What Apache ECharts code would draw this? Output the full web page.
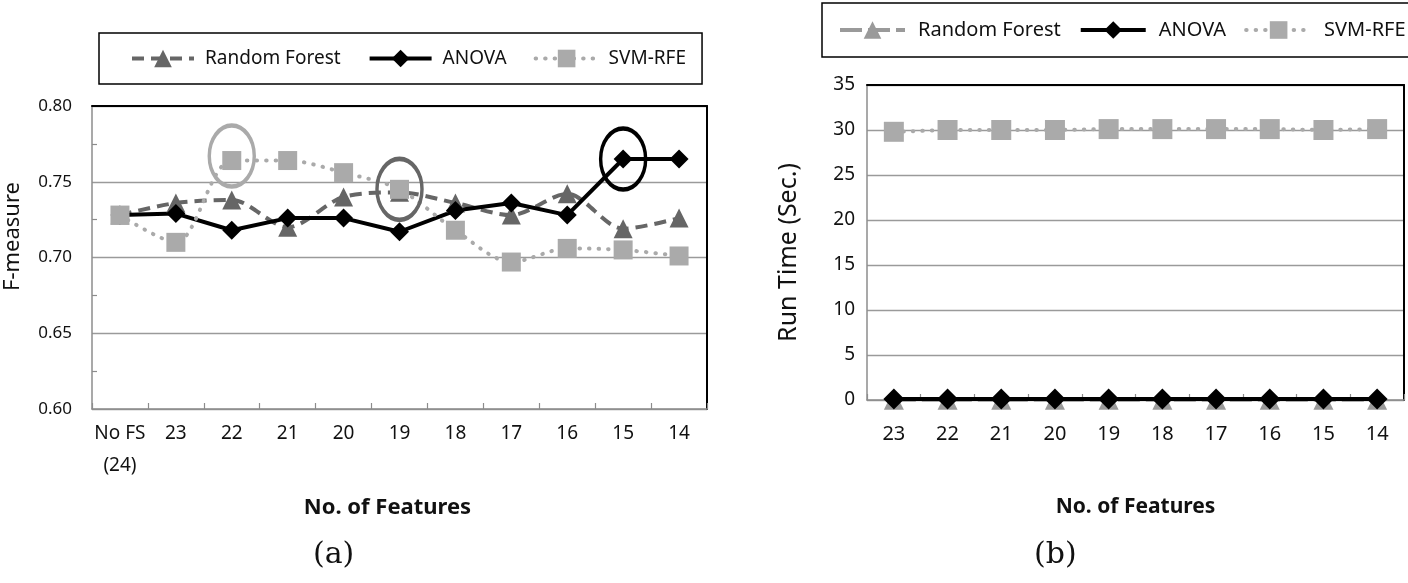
<!DOCTYPE html>
<html>
<head>
<meta charset="utf-8">
<script src="https://cdn.jsdelivr.net/npm/echarts@6/dist/echarts.min.js"></script>
<style>
html,body{margin:0;padding:0;background:#fff;}
#c{width:1408px;height:583px;}
</style>
</head>
<body>
<div id="c"></div>
<script>
// ---- data (a): F-measure ----
const categoriesA = ['No FS\n\n(24)', '23', '22', '21', '20', '19', '18', '17', '16', '15', '14'];
const rfA    = [0.728, 0.736, 0.738, 0.720, 0.740, 0.743, 0.736, 0.728, 0.742, 0.719, 0.726];
const anovaA = [0.728, 0.729, 0.718, 0.726, 0.726, 0.717, 0.731, 0.736, 0.728, 0.765, 0.765];
const svmA   = [0.728, 0.710, 0.764, 0.764, 0.756, 0.745, 0.718, 0.697, 0.706, 0.705, 0.701];
const yTicksA = [0.60, 0.65, 0.70, 0.75, 0.80];
// highlighted points (ellipses)
const markSvmA   = ['22', 0.767];
const markRfA    = ['19', 0.745];
const markAnovaA = ['15', 0.765];

// ---- data (b): run time ----
const categoriesB = ['23', '22', '21', '20', '19', '18', '17', '16', '15', '14'];
const rfB    = [0.02, 0.02, 0.02, 0.02, 0.02, 0.02, 0.02, 0.02, 0.02, 0.02];
const anovaB = [0.1, 0.1, 0.1, 0.1, 0.1, 0.1, 0.1, 0.1, 0.1, 0.1];
const svmB   = [29.8, 30.0, 30.0, 30.0, 30.1, 30.1, 30.1, 30.1, 30.0, 30.1];
const yTicksB = [0, 5, 10, 15, 20, 25, 30, 35];

const seriesNames = ['Random Forest', 'ANOVA', 'SVM-RFE'];

const FONT = 'Noto Sans';
const TXT = '#111';
const AXIS_GRAY = '#8c8c8c';
const GRID_GRAY = '#9a9a9a';
const ellipse = 'path://M0,50A50,50,0,1,1,100,50A50,50,0,1,1,0,50Z';

function mark(coord, color) {
  return {
    symbol: ellipse,
    symbolSize: [45, 61],
    silent: true,
    itemStyle: { color: 'rgba(0,0,0,0)', borderColor: color, borderWidth: 4 },
    label: { show: false },
    data: [{ coord: coord }]
  };
}

const chart = echarts.init(document.getElementById('c'));
chart.setOption({
  animation: false,
  backgroundColor: '#fff',
  textStyle: { fontFamily: FONT },
  title: [
    { text: '(a)', left: 313, top: 540, padding: 0,
      textStyle: { fontFamily: 'DejaVu Serif', fontSize: 30, fontWeight: 'normal', color: TXT } },
    { text: '(b)', left: 1034, top: 540, padding: 0,
      textStyle: { fontFamily: 'DejaVu Serif', fontSize: 30, fontWeight: 'normal', color: TXT } }
  ],
  legend: [
    {
      left: 99, top: 33, width: 660,
      orient: 'horizontal',
      itemWidth: 62, itemHeight: 22, itemGap: 27,
      padding: [16, 16, 16, 31],
      borderColor: '#000', borderWidth: 1.5,
      lineStyle: { width: 4 },
      textStyle: { fontFamily: FONT, fontSize: 19, color: TXT, padding: [0, 0, 0, 6] },
      data: seriesNames
    },
    {
      left: 822, top: 3, width: 620,
      orient: 'horizontal',
      itemWidth: 65, itemHeight: 22, itemGap: 18,
      padding: [17, 10, 17, 16],
      borderColor: '#000', borderWidth: 1.5,
      lineStyle: { width: 4 },
      textStyle: { fontFamily: FONT, fontSize: 20, color: TXT, padding: [0, 0, 0, 8] },
      data: [
        { name: 'Random Forest', itemStyle: { color: '#9a9a9a' }, lineStyle: { color: '#9a9a9a', type: [22, 6], width: 4 } },
        { name: 'ANOVA' },
        { name: 'SVM-RFE' }
      ]
    }
  ],
  grid: [
    { left: 92, top: 106, width: 615, height: 303 },
    { left: 867, top: 85, width: 537, height: 315 }
  ],
  xAxis: [
    {
      gridIndex: 0, type: 'category', data: categoriesA, boundaryGap: true,
      axisLine: { onZero: false, lineStyle: { color: AXIS_GRAY, width: 1.5 } },
      axisTick: { show: true, inside: true, length: 6, lineStyle: { color: AXIS_GRAY, width: 1.2 } },
      axisLabel: { fontSize: 19, color: TXT, margin: 17, lineHeight: 16, interval: 0, fontFamily: FONT },
      name: 'No. of Features', nameLocation: 'middle', nameGap: 88,
      nameTextStyle: { fontSize: 22, fontWeight: 'bold', color: TXT, fontFamily: FONT, padding: [0, 24, 0, 0] }
    },
    {
      gridIndex: 0, type: 'category', data: categoriesA, position: 'top',
      axisLine: { onZero: false, lineStyle: { color: '#000', width: 2 } },
      axisTick: { show: false }, axisLabel: { show: false }, splitLine: { show: false }
    },
    {
      gridIndex: 1, type: 'category', data: categoriesB, boundaryGap: true,
      axisLine: { onZero: false, lineStyle: { color: AXIS_GRAY, width: 1.5 } },
      axisTick: { show: true, inside: true, length: 6, lineStyle: { color: AXIS_GRAY, width: 1.2 } },
      axisLabel: { fontSize: 20, color: TXT, margin: 24, interval: 0, fontFamily: FONT },
      name: 'No. of Features', nameLocation: 'middle', nameGap: 97,
      nameTextStyle: { fontSize: 21, fontWeight: 'bold', color: TXT, fontFamily: FONT }
    },
    {
      gridIndex: 1, type: 'category', data: categoriesB, position: 'top',
      axisLine: { onZero: false, lineStyle: { color: '#000', width: 2 } },
      axisTick: { show: false }, axisLabel: { show: false }, splitLine: { show: false }
    }
  ],
  yAxis: [
    {
      gridIndex: 0, type: 'value',
      min: yTicksA[0], max: yTicksA[yTicksA.length - 1], interval: 0.05,
      axisLine: { show: true, onZero: false, lineStyle: { color: AXIS_GRAY, width: 1.5 } },
      axisTick: { show: false, inside: true },
      minorTick: { show: true, splitNumber: 2, length: 5, lineStyle: { color: AXIS_GRAY, width: 1.2 } },
      splitLine: { show: true, lineStyle: { color: GRID_GRAY, width: 1.3 } },
      axisLabel: { formatter: v => v.toFixed(2), fontSize: 17, color: TXT, margin: 20, fontFamily: FONT },
      name: 'F-measure', nameLocation: 'middle', nameGap: 68,
      nameTextStyle: { fontSize: 22, color: TXT, fontFamily: FONT, padding: [0, 0, 0, 42] }
    },
    {
      gridIndex: 0, type: 'value', position: 'right',
      min: yTicksA[0], max: yTicksA[yTicksA.length - 1],
      axisLine: { show: true, onZero: false, lineStyle: { color: '#000', width: 2 } },
      axisTick: { show: false }, axisLabel: { show: false }, splitLine: { show: false }
    },
    {
      gridIndex: 1, type: 'value',
      min: yTicksB[0], max: yTicksB[yTicksB.length - 1], interval: 5,
      axisLine: { show: true, onZero: false, lineStyle: { color: AXIS_GRAY, width: 1.5 } },
      axisTick: { show: false },
      splitLine: { show: true, lineStyle: { color: GRID_GRAY, width: 1.3 } },
      axisLabel: { fontSize: 19, color: TXT, margin: 12, fontFamily: FONT },
      name: 'Run Time (Sec.)', nameLocation: 'middle', nameGap: 66,
      nameTextStyle: { fontSize: 25, color: TXT, fontFamily: FONT, padding: [0, 20, 0, 0] }
    },
    {
      gridIndex: 1, type: 'value', position: 'right',
      min: yTicksB[0], max: yTicksB[yTicksB.length - 1],
      axisLine: { show: true, onZero: false, lineStyle: { color: '#000', width: 2 } },
      axisTick: { show: false }, axisLabel: { show: false }, splitLine: { show: false }
    }
  ],
  series: [
    {
      name: 'Random Forest', type: 'line', xAxisIndex: 0, yAxisIndex: 0, data: rfA,
      smooth: 0.3, symbol: 'triangle', symbolSize: 19, clip: false,
      itemStyle: { color: '#666' },
      lineStyle: { color: '#666', width: 4, type: [12, 7] },
      markPoint: mark(markRfA, '#666')
    },
    {
      name: 'ANOVA', type: 'line', xAxisIndex: 0, yAxisIndex: 0, data: anovaA,
      symbol: 'diamond', symbolSize: 19, clip: false,
      itemStyle: { color: '#000' },
      lineStyle: { color: '#000', width: 4 },
      markPoint: mark(markAnovaA, '#000')
    },
    {
      name: 'SVM-RFE', type: 'line', xAxisIndex: 0, yAxisIndex: 0, data: svmA,
      smooth: 0.3, symbol: 'rect', symbolSize: 19, clip: false,
      itemStyle: { color: '#aaa' },
      lineStyle: { color: '#aaa', width: 4, type: [0.5, 9], cap: 'round' },
      markPoint: mark(markSvmA, '#aaa')
    },
    {
      name: 'Random Forest', type: 'line', xAxisIndex: 2, yAxisIndex: 2, data: rfB,
      symbol: 'triangle', symbolSize: 20, clip: false,
      itemStyle: { color: '#9a9a9a' },
      lineStyle: { color: '#9a9a9a', width: 4, type: [22, 6] }
    },
    {
      name: 'ANOVA', type: 'line', xAxisIndex: 2, yAxisIndex: 2, data: anovaB,
      symbol: 'diamond', symbolSize: 21, clip: false,
      itemStyle: { color: '#000' },
      lineStyle: { color: '#000', width: 4 }
    },
    {
      name: 'SVM-RFE', type: 'line', xAxisIndex: 2, yAxisIndex: 2, data: svmB,
      symbol: 'rect', symbolSize: 20, clip: false,
      itemStyle: { color: '#aaa' },
      lineStyle: { color: '#aaa', width: 4, type: [0.5, 9], cap: 'round' }
    }
  ]
});
</script>
</body>
</html>
